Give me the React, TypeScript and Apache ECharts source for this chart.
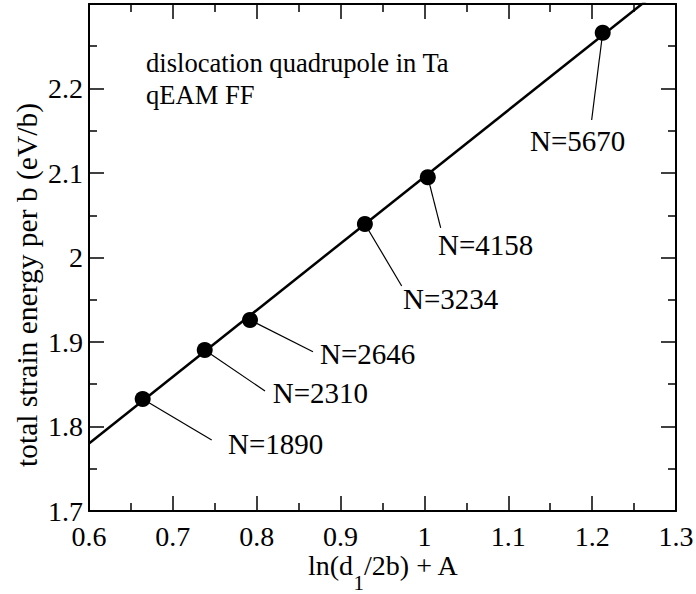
import React, { useEffect, useRef } from 'react';
import * as echarts from 'echarts';

// Data points: ln(d1/2b)+A vs total strain energy per b (eV/b)
const pointX = [0.664, 0.738, 0.792, 0.929, 1.004, 1.2126];
const pointY = [1.8325, 1.8905, 1.926, 2.0397, 2.095, 2.266];
// Linear fit
const fitX = [0.6, 1.3];
const fitY = [1.78, 2.332];
// Annotations
const atomCounts = ['N=1890', 'N=2310', 'N=2646', 'N=3234', 'N=4158', 'N=5670'];
const leaderEndX = [0.7463, 0.8099, 0.8671, 0.9729, 1.0194, 1.1994];
const leaderEndY = [1.784, 1.842, 1.8885, 1.9663, 2.035, 2.1627];
const labelX = [0.7658, 0.8191, 0.8755, 0.9744, 1.0162, 1.1259];
const labelY = [1.7793, 1.8396, 1.8858, 1.9509, 2.0148, 2.1379];
// Axis ranges
const xMin = 0.6, xMax = 1.3, xStep = 0.1;
const yMin = 1.7, yMax = 2.3, yStep = 0.1;

const FONT = '"Liberation Serif", "Times New Roman", serif';

export default function App() {
  const ref = useRef<HTMLDivElement>(null);
  useEffect(() => {
    if (!ref.current) return;
    const chart = echarts.init(ref.current, null, { renderer: 'svg' });
    const axisLine = { show: true, lineStyle: { color: '#000', width: 2 } };
    const tick = { show: true, inside: true, length: 15, lineStyle: { color: '#000', width: 1.5 } };
    const minor = { show: true, splitNumber: 2, length: 8, lineStyle: { color: '#000', width: 1.5 } };
    const xBase = { type: 'value', min: xMin, max: xMax, interval: xStep, splitLine: { show: false }, axisLine, axisTick: tick, minorTick: minor };
    const yBase = { type: 'value', min: yMin, max: yMax, interval: yStep, splitLine: { show: false }, axisLine, axisTick: tick, minorTick: minor };
    const leaderSeries = atomCounts.map((_, i) => ({
      type: 'line',
      data: [[pointX[i], pointY[i]], [leaderEndX[i], leaderEndY[i]]],
      showSymbol: false,
      lineStyle: { color: '#000', width: 1.2 },
      z: 3,
      silent: true,
    }));
    chart.setOption({
      animation: false,
      backgroundColor: '#fff',
      grid: { left: 89, right: 20, top: 4, bottom: 83, containLabel: false, outerBoundsMode: 'none' },
      xAxis: [
        {
          ...xBase,
          position: 'bottom',
          axisLabel: { show: true, margin: 11, color: '#000', fontSize: 28, fontFamily: FONT, showMaxLabel: true, showMinLabel: true },
        },
        { ...xBase, position: 'top', axisLabel: { show: false } },
      ],
      yAxis: [
        {
          ...yBase,
          position: 'left',
          axisLabel: { show: true, margin: 6, color: '#000', fontSize: 28, fontFamily: FONT, showMaxLabel: false },
        },
        { ...yBase, position: 'right', axisLabel: { show: false } },
      ],
      graphic: [
        {
          type: 'text', left: 146, top: 47,
          style: { text: 'dislocation quadrupole in Ta\nqEAM FF', font: `26.6px ${FONT}`, fill: '#000', lineHeight: 32 },
        },
        {
          type: 'text', x: 27, y: 285, rotation: Math.PI / 2,
          style: { text: 'total strain energy per b (eV/b)', font: `29.5px ${FONT}`, fill: '#000', align: 'center', verticalAlign: 'middle' },
        },
        {
          type: 'text', x: 308, y: 565,
          style: {
            text: 'ln(d{g|}/2b) + A', font: `28px ${FONT}`, fill: '#000', align: 'left', verticalAlign: 'middle',
            rich: { g: { width: 11, fontSize: 28, fontFamily: FONT } },
          },
        },
        {
          type: 'text', x: 353.5, y: 583,
          style: { text: '1', font: `21px ${FONT}`, fill: '#000', align: 'left', verticalAlign: 'middle' },
        },
      ],
      series: [
        {
          type: 'line',
          data: fitX.map((x, i) => [x, fitY[i]]),
          showSymbol: false,
          lineStyle: { color: '#000', width: 2.5 },
          clip: true,
          z: 2,
        },
        ...leaderSeries,
        {
          type: 'scatter',
          data: pointX.map((x, i) => [x, pointY[i]]),
          symbol: 'circle',
          symbolSize: 16,
          itemStyle: { color: '#000', opacity: 1 },
          z: 5,
        },
        {
          type: 'scatter',
          data: labelX.map((x, i) => [x, labelY[i], atomCounts[i]]),
          symbolSize: 1,
          itemStyle: { color: 'transparent', opacity: 1 },
          label: {
            show: true, position: 'inside', align: 'left', verticalAlign: 'middle', opacity: 1,
            formatter: (p: any) => p.value[2], color: '#000', textBorderWidth: 0, fontSize: 29, fontFamily: FONT,
          },
          z: 6,
        },
      ],
    });
    return () => chart.dispose();
  }, []);
  return <div ref={ref} style={{ position: 'fixed', left: 0, top: 0, width: 696, height: 594 }} />;
}
